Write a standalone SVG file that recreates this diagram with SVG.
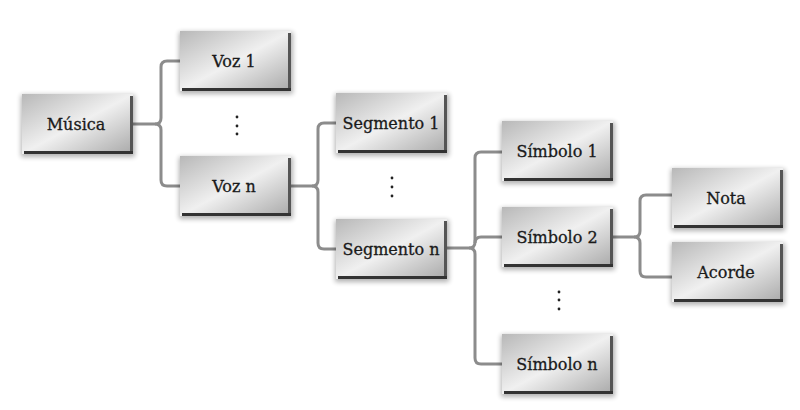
<svg xmlns="http://www.w3.org/2000/svg" width="800" height="410" viewBox="0 0 800 410">
<defs>
<linearGradient id="face" x1="0" y1="0" x2="1" y2="1">
<stop offset="0" stop-color="#b8b8b8"/>
<stop offset="0.5" stop-color="#f0f0f0"/>
<stop offset="1" stop-color="#a8a8a8"/>
</linearGradient>
<filter id="blur" x="-20%" y="-20%" width="140%" height="140%">
<feGaussianBlur stdDeviation="2.5"/>
</filter>
<symbol id="box" viewBox="0 0 111 60" width="111" height="60" overflow="visible">
<rect x="-1" y="1" width="114" height="62" fill="#000" opacity="0.3" filter="url(#blur)"/>
<rect x="0" y="0" width="111" height="60" fill="url(#face)"/>
<rect x="108" y="2" width="3" height="58" fill="#555"/>
<rect x="2" y="57" width="109" height="3" fill="#333"/>
</symbol>
</defs>
<style>
.lbl{font-family:"DejaVu Serif","Liberation Serif",serif;font-size:16px;fill:#1a1a1a;stroke:#1a1a1a;stroke-width:0.3;text-anchor:middle}
.con{fill:none;stroke:#8c8c8c;stroke-width:3}
.dot{fill:#222}
</style>
<rect width="800" height="410" fill="#ffffff"/>
<g id="connectors">
<path class="con" d="M132 124 H155 Q161 124 161 118 V67 Q161 61 167 61 H180"/>
<path class="con" d="M155 124 Q161 124 161 130 V180 Q161 186 167 186 H180"/>
<path class="con" d="M290 186 H312 Q318 186 318 180 V129 Q318 123 324 123 H336"/>
<path class="con" d="M312 186 Q318 186 318 192 V243 Q318 249 324 249 H336"/>
<path class="con" d="M447 248 H469 Q475 248 475 242 V158 Q475 152 481 152 H502"/>
<path class="con" d="M475 243 Q475 237 481 237 H502"/>
<path class="con" d="M469 248 Q475 248 475 254 V358 Q475 364 481 364 H502"/>
<path class="con" d="M613 237 H634 Q640 237 640 231 V201 Q640 195 646 195 H672"/>
<path class="con" d="M634 237 Q640 237 640 243 V271 Q640 277 646 277 H672"/>
</g>
<g id="musica"><use href="#box" x="22" y="94"/><text class="lbl" x="76" y="130">Música</text></g>
<g id="voz1"><use href="#box" x="180" y="31"/><text class="lbl" x="234" y="67">Voz 1</text></g>
<g id="vozn"><use href="#box" x="180" y="156"/><text class="lbl" x="234" y="192">Voz n</text></g>
<g id="seg1"><use href="#box" x="336" y="93"/><text class="lbl" x="391" y="129">Segmento 1</text></g>
<g id="segn"><use href="#box" x="336" y="219"/><text class="lbl" x="391" y="255">Segmento n</text></g>
<g id="sim1"><use href="#box" x="502" y="121"/><text class="lbl" x="557" y="157">Símbolo 1</text></g>
<g id="sim2"><use href="#box" x="502" y="207"/><text class="lbl" x="557" y="243">Símbolo 2</text></g>
<g id="simn"><use href="#box" x="502" y="334"/><text class="lbl" x="557" y="370">Símbolo n</text></g>
<g id="nota"><use href="#box" x="672" y="168"/><text class="lbl" x="726" y="204">Nota</text></g>
<g id="acorde"><use href="#box" x="672" y="242"/><text class="lbl" x="726" y="278">Acorde</text></g>
<g id="dots">
<circle class="dot" cx="237" cy="117" r="1.4"/><circle class="dot" cx="237" cy="126" r="1.4"/><circle class="dot" cx="237" cy="134" r="1.4"/>
<circle class="dot" cx="392" cy="178" r="1.4"/><circle class="dot" cx="392" cy="187" r="1.4"/><circle class="dot" cx="392" cy="196" r="1.4"/>
<circle class="dot" cx="559" cy="292" r="1.4"/><circle class="dot" cx="559" cy="300" r="1.4"/><circle class="dot" cx="559" cy="309" r="1.4"/>
</g>
</svg>
